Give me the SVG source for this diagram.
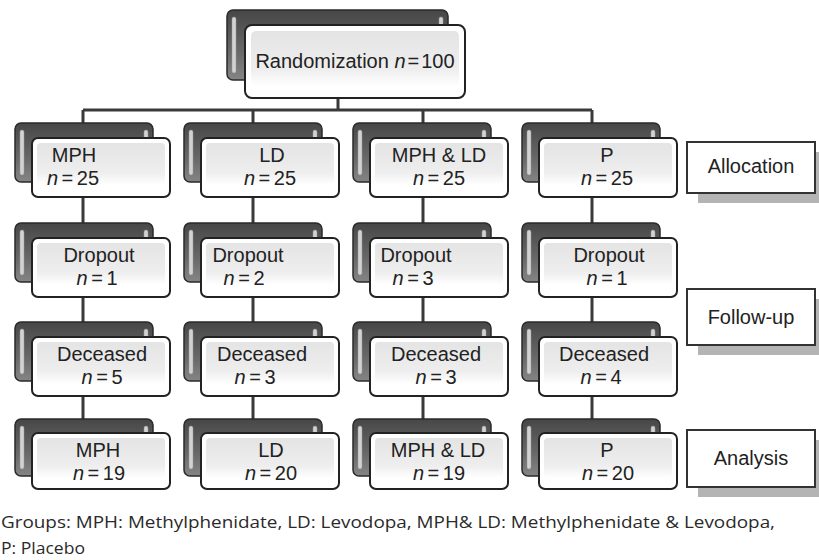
<svg xmlns="http://www.w3.org/2000/svg" width="819" height="560" viewBox="0 0 819 560">
<defs>
<linearGradient id="gBack" x1="0" y1="0" x2="0" y2="1">
<stop offset="0" stop-color="#474747"/>
<stop offset="0.6" stop-color="#686868"/>
<stop offset="1" stop-color="#858585"/>
</linearGradient>
<linearGradient id="gFront" x1="0" y1="0" x2="0" y2="1">
<stop offset="0" stop-color="#e4e4e4"/>
<stop offset="0.7" stop-color="#eeeeee"/>
<stop offset="1" stop-color="#ffffff"/>
</linearGradient>
</defs>
<style>
.back{fill:url(#gBack);stroke:#2a2a2a;stroke-width:1.5}
.strip{fill:#d2d2d2;stroke:#999;stroke-width:0.5}
.front{fill:#ffffff;stroke:#222;stroke-width:2}
.inner{fill:url(#gFront)}
.t{font-family:"Liberation Sans",Arial,sans-serif;font-size:20px;fill:#222;text-anchor:middle}
.w{word-spacing:-2px}
.n{font-style:italic}
.lab{fill:#fff;stroke:#333;stroke-width:2}
.shadow{fill:#b4b4b4}
.cap{font-family:"Open Sans","Noto Sans",sans-serif;font-size:17px;fill:#2a2a2a}
.conn{stroke:#3a3a3a;stroke-width:3;fill:none}
</style>

<g id="connectors">
<path class="conn" d="M338 98V110M83 110H592M83 110V123M253 110V123M423 110V123M592 110V123"/>
<path class="conn" d="M83 197V223M253 197V223M423 197V223M592 197V223"/>
<path class="conn" d="M83 297V322M253 297V322M423 297V322M592 297V322"/>
<path class="conn" d="M83 396V419M253 396V419M423 396V419M592 396V419"/>
</g>

<g id="randomization">
<rect class="back" x="227" y="10" width="221" height="70" rx="6"/>
<rect class="strip" x="232" y="17" width="4" height="56" rx="2"/>
<rect class="strip" x="439" y="17" width="4" height="56" rx="2"/>
<rect class="front" x="245" y="25" width="220" height="73" rx="7"/>
<rect class="inner" x="251" y="31" width="208" height="55" rx="5"/>
<text class="t" x="355" y="68">Randomization <tspan class="n">n</tspan><tspan dx="2">=</tspan><tspan dx="2">100</tspan></text>
</g>

<!-- Row 1 -->
<g id="mph-alloc">
<rect class="back" x="15" y="123" width="138" height="59" rx="6"/>
<rect class="strip" x="20" y="130" width="4" height="45" rx="2"/>
<rect class="strip" x="144" y="130" width="4" height="45" rx="2"/>
<rect class="front" x="32" y="138" width="138" height="59" rx="6"/>
<rect class="inner" x="37" y="143" width="128" height="42" rx="4"/>
<text class="t" x="74" y="162">MPH</text>
<text class="t w" x="73" y="185"><tspan class="n">n</tspan> = 25</text>
</g>
<g id="ld-alloc">
<rect class="back" x="184" y="123" width="138" height="59" rx="6"/>
<rect class="strip" x="189" y="130" width="4" height="45" rx="2"/>
<rect class="strip" x="313" y="130" width="4" height="45" rx="2"/>
<rect class="front" x="201" y="138" width="138" height="59" rx="6"/>
<rect class="inner" x="206" y="143" width="128" height="42" rx="4"/>
<text class="t" x="272" y="162">LD</text>
<text class="t w" x="270" y="185"><tspan class="n">n</tspan> = 25</text>
</g>
<g id="mphld-alloc">
<rect class="back" x="353" y="123" width="138" height="59" rx="6"/>
<rect class="strip" x="358" y="130" width="4" height="45" rx="2"/>
<rect class="strip" x="482" y="130" width="4" height="45" rx="2"/>
<rect class="front" x="370" y="138" width="138" height="59" rx="6"/>
<rect class="inner" x="375" y="143" width="128" height="42" rx="4"/>
<text class="t" x="439" y="162">MPH &amp; LD</text>
<text class="t w" x="439" y="185"><tspan class="n">n</tspan> = 25</text>
</g>
<g id="p-alloc">
<rect class="back" x="522" y="123" width="138" height="59" rx="6"/>
<rect class="strip" x="527" y="130" width="4" height="45" rx="2"/>
<rect class="strip" x="651" y="130" width="4" height="45" rx="2"/>
<rect class="front" x="539" y="138" width="138" height="59" rx="6"/>
<rect class="inner" x="544" y="143" width="128" height="42" rx="4"/>
<text class="t" x="607" y="162">P</text>
<text class="t w" x="607" y="185"><tspan class="n">n</tspan> = 25</text>
</g>

<!-- Row 2 -->
<g id="mph-dropout">
<rect class="back" x="15" y="223" width="138" height="59" rx="6"/>
<rect class="strip" x="20" y="230" width="4" height="45" rx="2"/>
<rect class="strip" x="144" y="230" width="4" height="45" rx="2"/>
<rect class="front" x="32" y="238" width="138" height="59" rx="6"/>
<rect class="inner" x="37" y="243" width="128" height="42" rx="4"/>
<text class="t" x="99" y="262">Dropout</text>
<text class="t w" x="97" y="285"><tspan class="n">n</tspan> = 1</text>
</g>
<g id="ld-dropout">
<rect class="back" x="184" y="223" width="138" height="59" rx="6"/>
<rect class="strip" x="189" y="230" width="4" height="45" rx="2"/>
<rect class="strip" x="313" y="230" width="4" height="45" rx="2"/>
<rect class="front" x="201" y="238" width="138" height="59" rx="6"/>
<rect class="inner" x="206" y="243" width="128" height="42" rx="4"/>
<text class="t" x="248" y="262">Dropout</text>
<text class="t w" x="244" y="285"><tspan class="n">n</tspan> = 2</text>
</g>
<g id="mphld-dropout">
<rect class="back" x="353" y="223" width="138" height="59" rx="6"/>
<rect class="strip" x="358" y="230" width="4" height="45" rx="2"/>
<rect class="strip" x="482" y="230" width="4" height="45" rx="2"/>
<rect class="front" x="370" y="238" width="138" height="59" rx="6"/>
<rect class="inner" x="375" y="243" width="128" height="42" rx="4"/>
<text class="t" x="416" y="262">Dropout</text>
<text class="t w" x="413" y="285"><tspan class="n">n</tspan> = 3</text>
</g>
<g id="p-dropout">
<rect class="back" x="522" y="223" width="138" height="59" rx="6"/>
<rect class="strip" x="527" y="230" width="4" height="45" rx="2"/>
<rect class="strip" x="651" y="230" width="4" height="45" rx="2"/>
<rect class="front" x="539" y="238" width="138" height="59" rx="6"/>
<rect class="inner" x="544" y="243" width="128" height="42" rx="4"/>
<text class="t" x="609" y="262">Dropout</text>
<text class="t w" x="607" y="285"><tspan class="n">n</tspan> = 1</text>
</g>

<!-- Row 3 -->
<g id="mph-deceased">
<rect class="back" x="15" y="322" width="138" height="59" rx="6"/>
<rect class="strip" x="20" y="329" width="4" height="45" rx="2"/>
<rect class="strip" x="144" y="329" width="4" height="45" rx="2"/>
<rect class="front" x="32" y="337" width="138" height="59" rx="6"/>
<rect class="inner" x="37" y="342" width="128" height="42" rx="4"/>
<text class="t" x="102" y="361">Deceased</text>
<text class="t w" x="102" y="384"><tspan class="n">n</tspan> = 5</text>
</g>
<g id="ld-deceased">
<rect class="back" x="184" y="322" width="138" height="59" rx="6"/>
<rect class="strip" x="189" y="329" width="4" height="45" rx="2"/>
<rect class="strip" x="313" y="329" width="4" height="45" rx="2"/>
<rect class="front" x="201" y="337" width="138" height="59" rx="6"/>
<rect class="inner" x="206" y="342" width="128" height="42" rx="4"/>
<text class="t" x="262" y="361">Deceased</text>
<text class="t w" x="255" y="384"><tspan class="n">n</tspan> = 3</text>
</g>
<g id="mphld-deceased">
<rect class="back" x="353" y="322" width="138" height="59" rx="6"/>
<rect class="strip" x="358" y="329" width="4" height="45" rx="2"/>
<rect class="strip" x="482" y="329" width="4" height="45" rx="2"/>
<rect class="front" x="370" y="337" width="138" height="59" rx="6"/>
<rect class="inner" x="375" y="342" width="128" height="42" rx="4"/>
<text class="t" x="436" y="361">Deceased</text>
<text class="t w" x="436" y="384"><tspan class="n">n</tspan> = 3</text>
</g>
<g id="p-deceased">
<rect class="back" x="522" y="322" width="138" height="59" rx="6"/>
<rect class="strip" x="527" y="329" width="4" height="45" rx="2"/>
<rect class="strip" x="651" y="329" width="4" height="45" rx="2"/>
<rect class="front" x="539" y="337" width="138" height="59" rx="6"/>
<rect class="inner" x="544" y="342" width="128" height="42" rx="4"/>
<text class="t" x="604" y="361">Deceased</text>
<text class="t w" x="601" y="384"><tspan class="n">n</tspan> = 4</text>
</g>

<!-- Row 4 -->
<g id="mph-analysis">
<rect class="back" x="15" y="419" width="138" height="57" rx="6"/>
<rect class="strip" x="20" y="426" width="4" height="43" rx="2"/>
<rect class="strip" x="144" y="426" width="4" height="43" rx="2"/>
<rect class="front" x="32" y="433" width="138" height="56" rx="6"/>
<rect class="inner" x="37" y="438" width="128" height="40" rx="4"/>
<text class="t" x="98" y="457">MPH</text>
<text class="t w" x="99" y="480"><tspan class="n">n</tspan> = 19</text>
</g>
<g id="ld-analysis">
<rect class="back" x="184" y="419" width="138" height="57" rx="6"/>
<rect class="strip" x="189" y="426" width="4" height="43" rx="2"/>
<rect class="strip" x="313" y="426" width="4" height="43" rx="2"/>
<rect class="front" x="201" y="433" width="138" height="56" rx="6"/>
<rect class="inner" x="206" y="438" width="128" height="40" rx="4"/>
<text class="t" x="271" y="457">LD</text>
<text class="t w" x="271" y="480"><tspan class="n">n</tspan> = 20</text>
</g>
<g id="mphld-analysis">
<rect class="back" x="353" y="419" width="138" height="57" rx="6"/>
<rect class="strip" x="358" y="426" width="4" height="43" rx="2"/>
<rect class="strip" x="482" y="426" width="4" height="43" rx="2"/>
<rect class="front" x="370" y="433" width="138" height="56" rx="6"/>
<rect class="inner" x="375" y="438" width="128" height="40" rx="4"/>
<text class="t" x="438" y="457">MPH &amp; LD</text>
<text class="t w" x="439" y="480"><tspan class="n">n</tspan> = 19</text>
</g>
<g id="p-analysis">
<rect class="back" x="522" y="419" width="138" height="57" rx="6"/>
<rect class="strip" x="527" y="426" width="4" height="43" rx="2"/>
<rect class="strip" x="651" y="426" width="4" height="43" rx="2"/>
<rect class="front" x="539" y="433" width="138" height="56" rx="6"/>
<rect class="inner" x="544" y="438" width="128" height="40" rx="4"/>
<text class="t" x="607" y="457">P</text>
<text class="t w" x="608" y="480"><tspan class="n">n</tspan> = 20</text>
</g>

<!-- Stage labels -->
<g id="allocation">
<rect class="shadow" x="698" y="152" width="121" height="51"/>
<rect class="lab" x="687" y="142" width="128" height="51"/>
<text class="t" x="751" y="173">Allocation</text>
</g>
<g id="follow-up">
<rect class="shadow" x="698" y="299" width="121" height="56"/>
<rect class="lab" x="687" y="289" width="128" height="56"/>
<text class="t" x="751" y="324">Follow-up</text>
</g>
<g id="analysis">
<rect class="shadow" x="698" y="440" width="121" height="57"/>
<rect class="lab" x="687" y="430" width="128" height="57"/>
<text class="t" x="751" y="465">Analysis</text>
</g>

<text class="cap" x="1" y="528" textLength="774" lengthAdjust="spacingAndGlyphs">Groups: MPH: Methylphenidate, LD: Levodopa, MPH&amp; LD: Methylphenidate &amp; Levodopa,</text>
<text class="cap" x="1" y="554" textLength="84" lengthAdjust="spacingAndGlyphs">P: Placebo</text>
</svg>
